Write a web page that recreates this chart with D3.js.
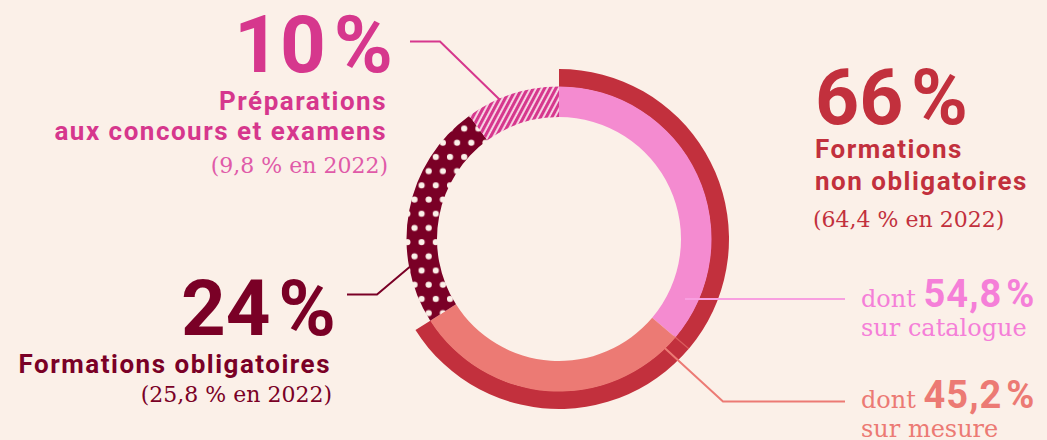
<!DOCTYPE html>
<html>
<head>
<meta charset="utf-8">
<script src="https://cdn.jsdelivr.net/npm/d3@7"></script>
<style>
	html, body { margin: 0; padding: 0; background: #fbf0e8; }
	svg { display: block; }
	.big { font-family: Roboto, sans-serif; font-weight: 700; }
	.head { font-family: Roboto, sans-serif; font-weight: 700; letter-spacing: 1.5px; }
	.serif { font-family: 'DejaVu Serif', serif; font-weight: 400; }
</style>
</head>
<body>
<div id="chart"></div>
<script>
// main split of the trainings (2023)
const categories = ['Formations non obligatoires', 'Formations obligatoires', 'Préparations aux concours et examens']
const shares = [66, 24, 10]
const sharesLabels = ['66', '24', '10']
const previous = ['64,4', '25,8', '9,8']

// split of the "non obligatoires" slice
const subCategories = ['sur catalogue', 'sur mesure']
const subShares = [54.8, 45.2]
const subLabels = ['54,8', '45,2']

const width = 1047
const height = 440
const cx = 559
const cy = 239

const colors = {
	bg: '#fbf0e8',
	red: '#c2303d',
	pink: '#f48bd0',
	pinkText: '#f57fd8',
	pinkLine: '#f89fe0',
	salmon: '#ec7a74',
	maroon: '#7a0026',
	magenta: '#d6378d',
	magentaLight: '#e05aa8'
}

const svg = d3.select('#chart')
	.append('svg')
	.attr('width', width)
	.attr('height', height)

svg.append('rect').attr('width', width).attr('height', height).attr('fill', colors.bg)

const defs = svg.append('defs')

// dotted fill
const dots = defs.append('pattern')
	.attr('id', 'dots')
	.attr('patternUnits', 'userSpaceOnUse')
	.attr('width', 14.2)
	.attr('height', 28.4)
	.attr('x', cx + 3)
	.attr('y', cy + 2)
dots.append('rect').attr('width', 14.2).attr('height', 28.4).attr('fill', colors.maroon)
dots.append('circle').attr('cx', 3.5).attr('cy', 3.5).attr('r', 3.1).attr('fill', colors.bg)
dots.append('circle').attr('cx', 10.6).attr('cy', 17.7).attr('r', 3.1).attr('fill', colors.bg)

// hatched fill
const hatch = defs.append('pattern')
	.attr('id', 'hatch')
	.attr('patternUnits', 'userSpaceOnUse')
	.attr('width', 5)
	.attr('height', 20)
	.attr('patternTransform', 'rotate(28)')
hatch.append('rect').attr('width', 5).attr('height', 20).attr('fill', colors.magenta)
hatch.append('rect').attr('x', 3.1).attr('width', 1.9).attr('height', 20).attr('fill', '#f8d9e6')

const pie = d3.pie().sort(null).value(d => d)
const mainArcs = pie(shares)
const subArcs = d3.pie().sort(null).value(d => d)
	.startAngle(mainArcs[0].startAngle)
	.endAngle(mainArcs[0].endAngle)(subShares)

const inner = d3.arc().innerRadius(122).outerRadius(152.5)
const outer = d3.arc().innerRadius(152).outerRadius(170)

const g = svg.append('g').attr('transform', `translate(${cx},${cy})`)

// outer band for the "non obligatoires" slice
g.append('path').attr('d', outer(mainArcs[0])).attr('fill', colors.red)

// inner ring
g.selectAll('path.sub')
	.data(subArcs)
	.join('path')
	.attr('class', 'sub')
	.attr('d', inner)
	.attr('fill', (d, i) => [colors.pink, colors.salmon][i])

g.selectAll('path.main')
	.data(mainArcs.slice(1))
	.join('path')
	.attr('class', 'main')
	.attr('d', inner)
	.attr('fill', (d, i) => ['url(#dots)', 'url(#hatch)'][i])

// faint seam through the red band at the catalogue / mesure split
const seam = subArcs[0].endAngle
g.append('line')
	.attr('x1', 150 * Math.sin(seam)).attr('y1', -150 * Math.cos(seam))
	.attr('x2', 170 * Math.sin(seam)).attr('y2', -170 * Math.cos(seam))
	.attr('stroke', colors.salmon).attr('stroke-width', 1.2).attr('opacity', 0.6)

// leader lines
const point = (angle, r) => [cx + r * Math.sin(angle), cy - r * Math.cos(angle)]

const leader = (pts, color, w) => svg.append('path')
	.attr('d', d3.line()(pts))
	.attr('fill', 'none')
	.attr('stroke', color)
	.attr('stroke-width', w || 2)

// préparations
const aPrep = (mainArcs[2].startAngle + mainArcs[2].endAngle) / 2 - 0.087
leader([[410, 41.5], [440, 41.5], point(aPrep, 151)], colors.magenta)

// obligatoires
leader([[347, 294.5], [377, 294.5], point(mainArcs[1].startAngle + 0.38, 152)], colors.maroon)

// sur catalogue
leader([[685, 299], [845, 299]], colors.pinkLine)

// sur mesure
leader([point(seam + 0.1, 150), [723, 401.5], [845, 401.5]], colors.salmon)

// texts
const bigNumber = (x, y, anchor, value, color, size) => {
	const t = svg.append('text')
		.attr('class', 'big')
		.attr('x', x).attr('y', y)
		.attr('text-anchor', anchor)
		.attr('fill', color)
		.attr('font-size', size)
	t.append('tspan').text(value)
	t.append('tspan').attr('dx', size * 0.1).text('%')
}

const line = (cls, x, y, anchor, txt, color, size) => svg.append('text')
	.attr('class', cls)
	.attr('x', x).attr('y', y)
	.attr('text-anchor', anchor)
	.attr('fill', color)
	.attr('font-size', size)
	.text(txt)

// 10 %
bigNumber(393, 72, 'end', sharesLabels[2], colors.magenta, 80)
line('head', 387, 110, 'end', 'Préparations', colors.magenta, 26)
line('head', 387, 140, 'end', 'aux concours et examens', colors.magenta, 26)
line('serif', 388, 173, 'end', `(${previous[2]} % en 2022)`, colors.magentaLight, 22)

// 66 %
bigNumber(815, 123.5, 'start', sharesLabels[0], colors.red, 77)
line('head', 815, 158, 'start', 'Formations', colors.red, 26)
line('head', 815, 190, 'start', 'non obligatoires', colors.red, 26)
line('serif', 813, 227, 'start', `(${previous[0]} % en 2022)`, colors.red, 22)

// 24 %
bigNumber(336, 335, 'end', sharesLabels[1], colors.maroon, 78)
line('head', 331, 373, 'end', 'Formations obligatoires', colors.maroon, 26)
line('serif', 332, 402, 'end', `(${previous[1]} % en 2022)`, colors.maroon, 22)

// sub labels
const subLabel = (y, value, name, color) => {
	const t = svg.append('text').attr('x', 861).attr('y', y).attr('fill', color)
	t.append('tspan').attr('class', 'serif').attr('font-size', 24).text('dont ')
	t.append('tspan').attr('class', 'big').attr('font-size', 38).attr('letter-spacing', 1).text(value)
	t.append('tspan').attr('class', 'big').attr('font-size', 38).attr('dx', 4).text('%')
	line('serif', 861, y + 29, 'start', name, color, 24)
}
subLabel(307, subLabels[0], subCategories[0], colors.pinkText)
subLabel(408, subLabels[1], subCategories[1], colors.salmon)
</script>
</body>
</html>
